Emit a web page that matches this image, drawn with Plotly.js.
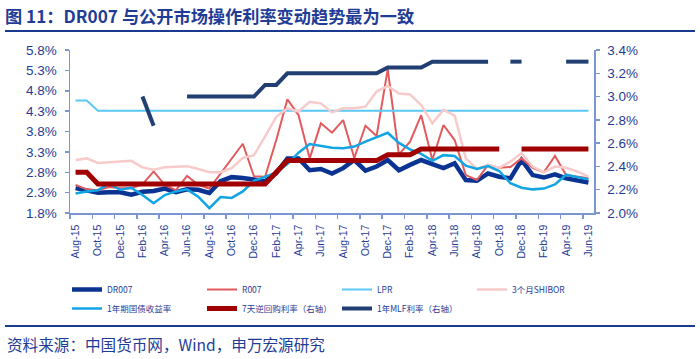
<!DOCTYPE html>
<html>
<head>
<meta charset="utf-8">
<script src="https://cdn.plot.ly/plotly-3.0.1.min.js"></script>
<style>
html,body{margin:0;padding:0;background:#fff;}
#chart{width:700px;height:359px;}
</style>
</head>
<body>
<div id="chart"></div>
<script>
// ---- data ----
var months = ["Aug-15","Sep-15","Oct-15","Nov-15","Dec-15","Jan-16","Feb-16","Mar-16","Apr-16","May-16","Jun-16","Jul-16",
  "Aug-16","Sep-16","Oct-16","Nov-16","Dec-16","Jan-17","Feb-17","Mar-17","Apr-17","May-17","Jun-17","Jul-17",
  "Aug-17","Sep-17","Oct-17","Nov-17","Dec-17","Jan-18","Feb-18","Mar-18","Apr-18","May-18","Jun-18","Jul-18",
  "Aug-18","Sep-18","Oct-18","Nov-18","Dec-18","Jan-19","Feb-19","Mar-19","Apr-19","May-19","Jun-19"];

var dr007 = [2.41,2.36,2.30,2.31,2.31,2.25,2.32,2.34,2.40,2.31,2.38,2.37,
  2.29,2.58,2.68,2.66,2.62,2.58,2.78,3.14,3.14,2.85,2.88,2.77,
  2.90,3.10,2.84,2.94,3.10,2.85,2.98,3.10,3.00,2.90,3.02,2.61,
  2.59,2.77,2.69,2.65,3.10,2.73,2.67,2.75,2.65,2.61,2.55];

var r007 = [2.49,2.38,2.36,2.44,2.41,2.41,2.50,2.82,2.49,2.36,2.71,2.49,
  2.40,2.76,3.12,3.50,2.70,2.69,3.59,4.59,4.20,3.14,4.00,3.77,
  4.08,3.15,3.94,3.69,5.33,3.24,3.55,4.20,3.10,3.96,3.59,2.73,
  2.61,2.98,2.91,2.93,3.14,2.91,2.80,3.20,2.73,2.69,2.65];

var lpr = [4.56,4.56,4.31,4.31,4.31,4.31,4.31,4.31,4.31,4.31,4.31,4.31,
  4.31,4.31,4.31,4.31,4.31,4.31,4.31,4.31,4.31,4.31,4.31,4.31,
  4.31,4.31,4.31,4.31,4.31,4.31,4.31,4.31,4.31,4.31,4.31,4.31,
  4.31,4.31,4.31,4.31,4.31,4.31,4.31,4.31,4.31,4.31,4.31];

var shibor3m = [3.10,3.14,3.03,3.05,3.07,3.08,2.92,2.86,2.92,2.94,2.95,2.88,
  2.80,2.80,2.90,3.15,3.22,3.68,4.16,4.37,4.29,4.53,4.49,4.27,
  4.37,4.37,4.41,4.78,4.92,4.73,4.71,4.45,4.00,4.33,4.19,3.14,
  2.88,2.98,2.91,3.06,3.27,2.94,2.80,2.94,2.91,2.82,2.69];

var cgb1y = [2.28,2.33,2.36,2.52,2.37,2.42,2.24,2.04,2.24,2.33,2.38,2.20,
  1.92,2.19,2.17,2.33,2.59,2.69,2.79,3.00,3.28,3.49,3.45,3.40,
  3.39,3.43,3.55,3.66,3.77,3.52,3.36,3.25,3.08,3.22,3.20,2.96,
  2.88,2.95,2.83,2.53,2.42,2.38,2.40,2.50,2.74,2.68,2.63];

var repo7d = [2.35,2.35,2.25,2.25,2.25,2.25,2.25,2.25,2.25,2.25,2.25,2.25,
  2.25,2.25,2.25,2.25,2.25,2.25,2.35,2.45,2.45,2.45,2.45,2.45,
  2.45,2.45,2.45,2.45,2.50,2.50,2.50,2.55,2.55,2.55,2.55,2.55,
  2.55,2.55,2.55,null,2.55,2.55,2.55,2.55,2.55,2.55,2.55];

var mlf1y = [null,null,null,null,null,null,3.00,2.75,null,null,3.00,3.00,
  3.00,3.00,3.00,3.00,3.00,3.10,3.10,3.20,3.20,3.20,3.20,3.20,
  3.20,3.20,3.20,3.20,3.25,3.25,3.25,3.25,3.30,3.30,3.30,3.30,
  3.30,3.30,null,3.30,3.30,null,null,null,3.30,3.30,3.30];

var leftTicks = [1.8,2.3,2.8,3.3,3.8,4.3,4.8,5.3,5.8];
var rightTicks = [2.0,2.2,2.4,2.6,2.8,3.0,3.2,3.4];

var seriesNames = ["DR007","R007","LPR","3个月SHIBOR","1年期国债收益率","7天逆回购利率（右轴）","1年MLF利率（右轴）"];

var titleText = "图 11：DR007 与公开市场操作利率变动趋势最为一致";
var sourceText = "资料来源：中国货币网，Wind，申万宏源研究";

// ---- layout helpers ----
var W = 700, H = 359;
var mL = 70, mR = 106, mT = 50, mB = 146;
var pw = W - mL - mR, ph = H - mT - mB;
function xp(px){ return (px - mL) / pw; }
function yp(py){ return (H - mB - py) / ph; }

var idx = months.map(function(m, i){ return i; });
var evenIdx = idx.filter(function(i){ return i % 2 === 0; });
var evenLbl = evenIdx.map(function(i){ return months[i]; });

var navy = "#1F3C96";
var axisCol = "#7A96D3";
var fontLat = "Liberation Sans, Arial, sans-serif";
var fontCJK = "Noto Sans CJK SC, sans-serif";

function tr(y, name, color, width, axis){
  return {x: idx, y: y, name: name, type: "scatter", mode: "lines",
    yaxis: axis, connectgaps: false,
    line: {color: color, width: width}, hoverinfo: "skip"};
}

var data = [
  tr(dr007, seriesNames[0], "#0B3391", 4.5, "y"),
  tr(r007, seriesNames[1], "#E35A5C", 2, "y"),
  tr(lpr, seriesNames[2], "#5BC8F6", 2, "y"),
  tr(shibor3m, seriesNames[3], "#F8CACA", 2.5, "y"),
  tr(cgb1y, seriesNames[4], "#11A5E3", 2.5, "y"),
  tr(repo7d, seriesNames[5], "#A00000", 5, "y2"),
  tr(mlf1y, seriesNames[6], "#213F72", 4, "y2")
];

var layout = {
  width: W, height: H,
  margin: {l: mL, r: mR, t: mT, b: mB, pad: 0},
  paper_bgcolor: "#fff", plot_bgcolor: "#fff",
  showlegend: true,
  title: {text: "<b>" + titleText + "</b>", xref: "container", yref: "container",
    x: 5/W, xanchor: "left", y: 1 - 17/H, yanchor: "middle",
    font: {family: fontCJK, size: 17.2, color: navy}},
  xaxis: {
    range: [-0.5, 46.5], showgrid: false, zeroline: false,
    showline: true, linecolor: axisCol, linewidth: 1.5,
    tickmode: "array", tickvals: evenIdx, ticktext: evenLbl,
    ticks: "", tickangle: -90, ticklabelstandoff: 6,
    tickfont: {family: fontLat, size: 10.5, color: navy},
    minor: {tick0: -0.5, dtick: 2, ticks: "outside", ticklen: 4, tickcolor: axisCol, tickwidth: 1.5, showgrid: false}
  },
  yaxis: {
    range: [1.8, 5.8], showgrid: false, zeroline: false,
    showline: true, linecolor: axisCol, linewidth: 1.5,
    tickmode: "array", tickvals: leftTicks,
    ticktext: leftTicks.map(function(v){ return v.toFixed(1) + "%"; }),
    ticks: "outside", ticklen: 4, tickcolor: axisCol, tickwidth: 1.5, ticklabelstandoff: 5,
    tickfont: {family: fontLat, size: 13.5, color: navy}
  },
  yaxis2: {
    overlaying: "y", side: "right",
    range: [2.0, 3.4], showgrid: false, zeroline: false,
    showline: true, linecolor: axisCol, linewidth: 1.5,
    tickmode: "array", tickvals: rightTicks,
    ticktext: rightTicks.map(function(v){ return v.toFixed(1) + "%"; }),
    ticks: "outside", ticklen: 4, tickcolor: axisCol, tickwidth: 1.5, ticklabelstandoff: 5,
    tickfont: {family: fontLat, size: 13.5, color: navy}
  },
  legend: {
    orientation: "h", xref: "paper", yref: "paper",
    x: xp(67), xanchor: "left", y: yp(275), yanchor: "top",
    entrywidth: 90, entrywidthmode: "pixels",
    font: {family: fontCJK, size: 8.5, color: navy},
    itemwidth: 30, traceorder: "normal", bgcolor: "rgba(0,0,0,0)"
  },
  shapes: [
    {type: "line", xref: "paper", yref: "paper", x0: xp(5), x1: xp(695), y0: yp(31), y1: yp(31),
      line: {color: "#1A3A90", width: 2}},
    {type: "line", xref: "paper", yref: "paper", x0: xp(5), x1: xp(695), y0: yp(326), y1: yp(326),
      line: {color: "#1A3A90", width: 2}}
  ],
  annotations: [
    {text: sourceText, xref: "paper", yref: "paper", x: xp(5), y: yp(344),
      xanchor: "left", yanchor: "middle", showarrow: false,
      font: {family: fontCJK, size: 15.6, color: navy}}
  ]
};

Plotly.newPlot("chart", data, layout, {staticPlot: true, displayModeBar: false});
</script>
</body>
</html>
